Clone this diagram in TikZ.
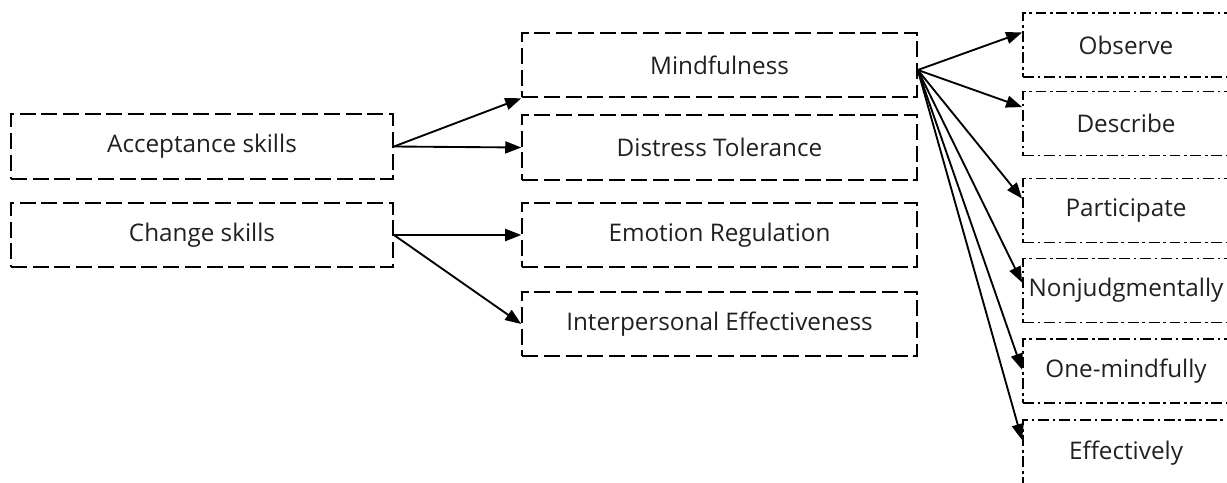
\documentclass[tikz,border=0pt]{standalone}
\usepackage{fontspec}
\setmainfont{Open Sans}
\usetikzlibrary{arrows.meta,calc}
\definecolor{txt}{HTML}{231F20}
\begin{document}
\begin{tikzpicture}[x=0.75pt,y=-0.75pt,
  boxbase/.style={draw=black,rectangle,inner sep=0pt,line width=1.4pt,
    font=\fontsize{18.2}{21}\selectfont,text=txt},
  dashbox/.style={boxbase,dash pattern=on 12pt off 4.3pt},
  dotbox/.style={boxbase,dash pattern=on 8.2pt off 2.8pt on 1.9pt off 2.8pt,
    minimum width=157.5pt,minimum height=48pt},
  leftbox/.style={dashbox,minimum width=286.5pt,minimum height=48.5pt},
  midbox/.style={dashbox,minimum width=296pt,minimum height=48.5pt},
  arr/.style={line width=1.4pt,-{Triangle[length=12pt,width=9pt]}}]
\useasboundingbox (0,0) rectangle (1227,482);
% left
\node[leftbox] (acc) at (202,146.5) {Acceptance skills};
\node[leftbox] (chg) at (202,235) {Change skills};
% middle
\node[midbox] (mind) at (719.5,65) {Mindfulness};
\node[midbox] (dist) at (719.5,147.5) {Distress Tolerance};
\node[midbox] (emo) at (719.5,235) {Emotion Regulation};
\node[midbox] (inter) at (719.5,324) {Interpersonal Effectiveness};
% right
\node[dotbox] (obs) at (1128,45) {\hspace*{-3pt}Observe};
\node[dotbox] (des) at (1128,123.5) {\hspace*{-3pt}Describe};
\node[dotbox] (par) at (1128,210.5) {\hspace*{-3pt}Participate};
\node[dotbox] (non) at (1128,290.5) {\hspace*{-3pt}Nonjudgmentally};
\node[dotbox] (one) at (1128,371) {\hspace*{-3pt}One-mindfully};
\node[dotbox,minimum height=50pt] (eff) at (1128,453) {\hspace*{-3pt}Effectively};
% connectors
\draw[arr] (acc.east) -- (mind.south west);
\draw[arr] (acc.east) -- (dist.west);
\draw[arr] (chg.east) -- (emo.west);
\draw[arr] (chg.east) -- (inter.west);
\coordinate (mo) at ($(mind.east)+(0,5)$);
\draw[arr] (mo) -- ($(obs.north west)!0.31!(obs.south west)$);
\draw[arr] (mo) -- ($(des.north west)!0.25!(des.south west)$);
\draw[arr] (mo) -- ($(par.north west)!0.32!(par.south west)$);
\draw[arr] (mo) -- ($(non.north west)!0.38!(non.south west)$);
\draw[arr] (mo) -- ($(one.north west)!0.48!(one.south west)$);
\draw[arr] (mo) -- ($(eff.north west)!0.31!(eff.south west)$);
\end{tikzpicture}
\end{document}
